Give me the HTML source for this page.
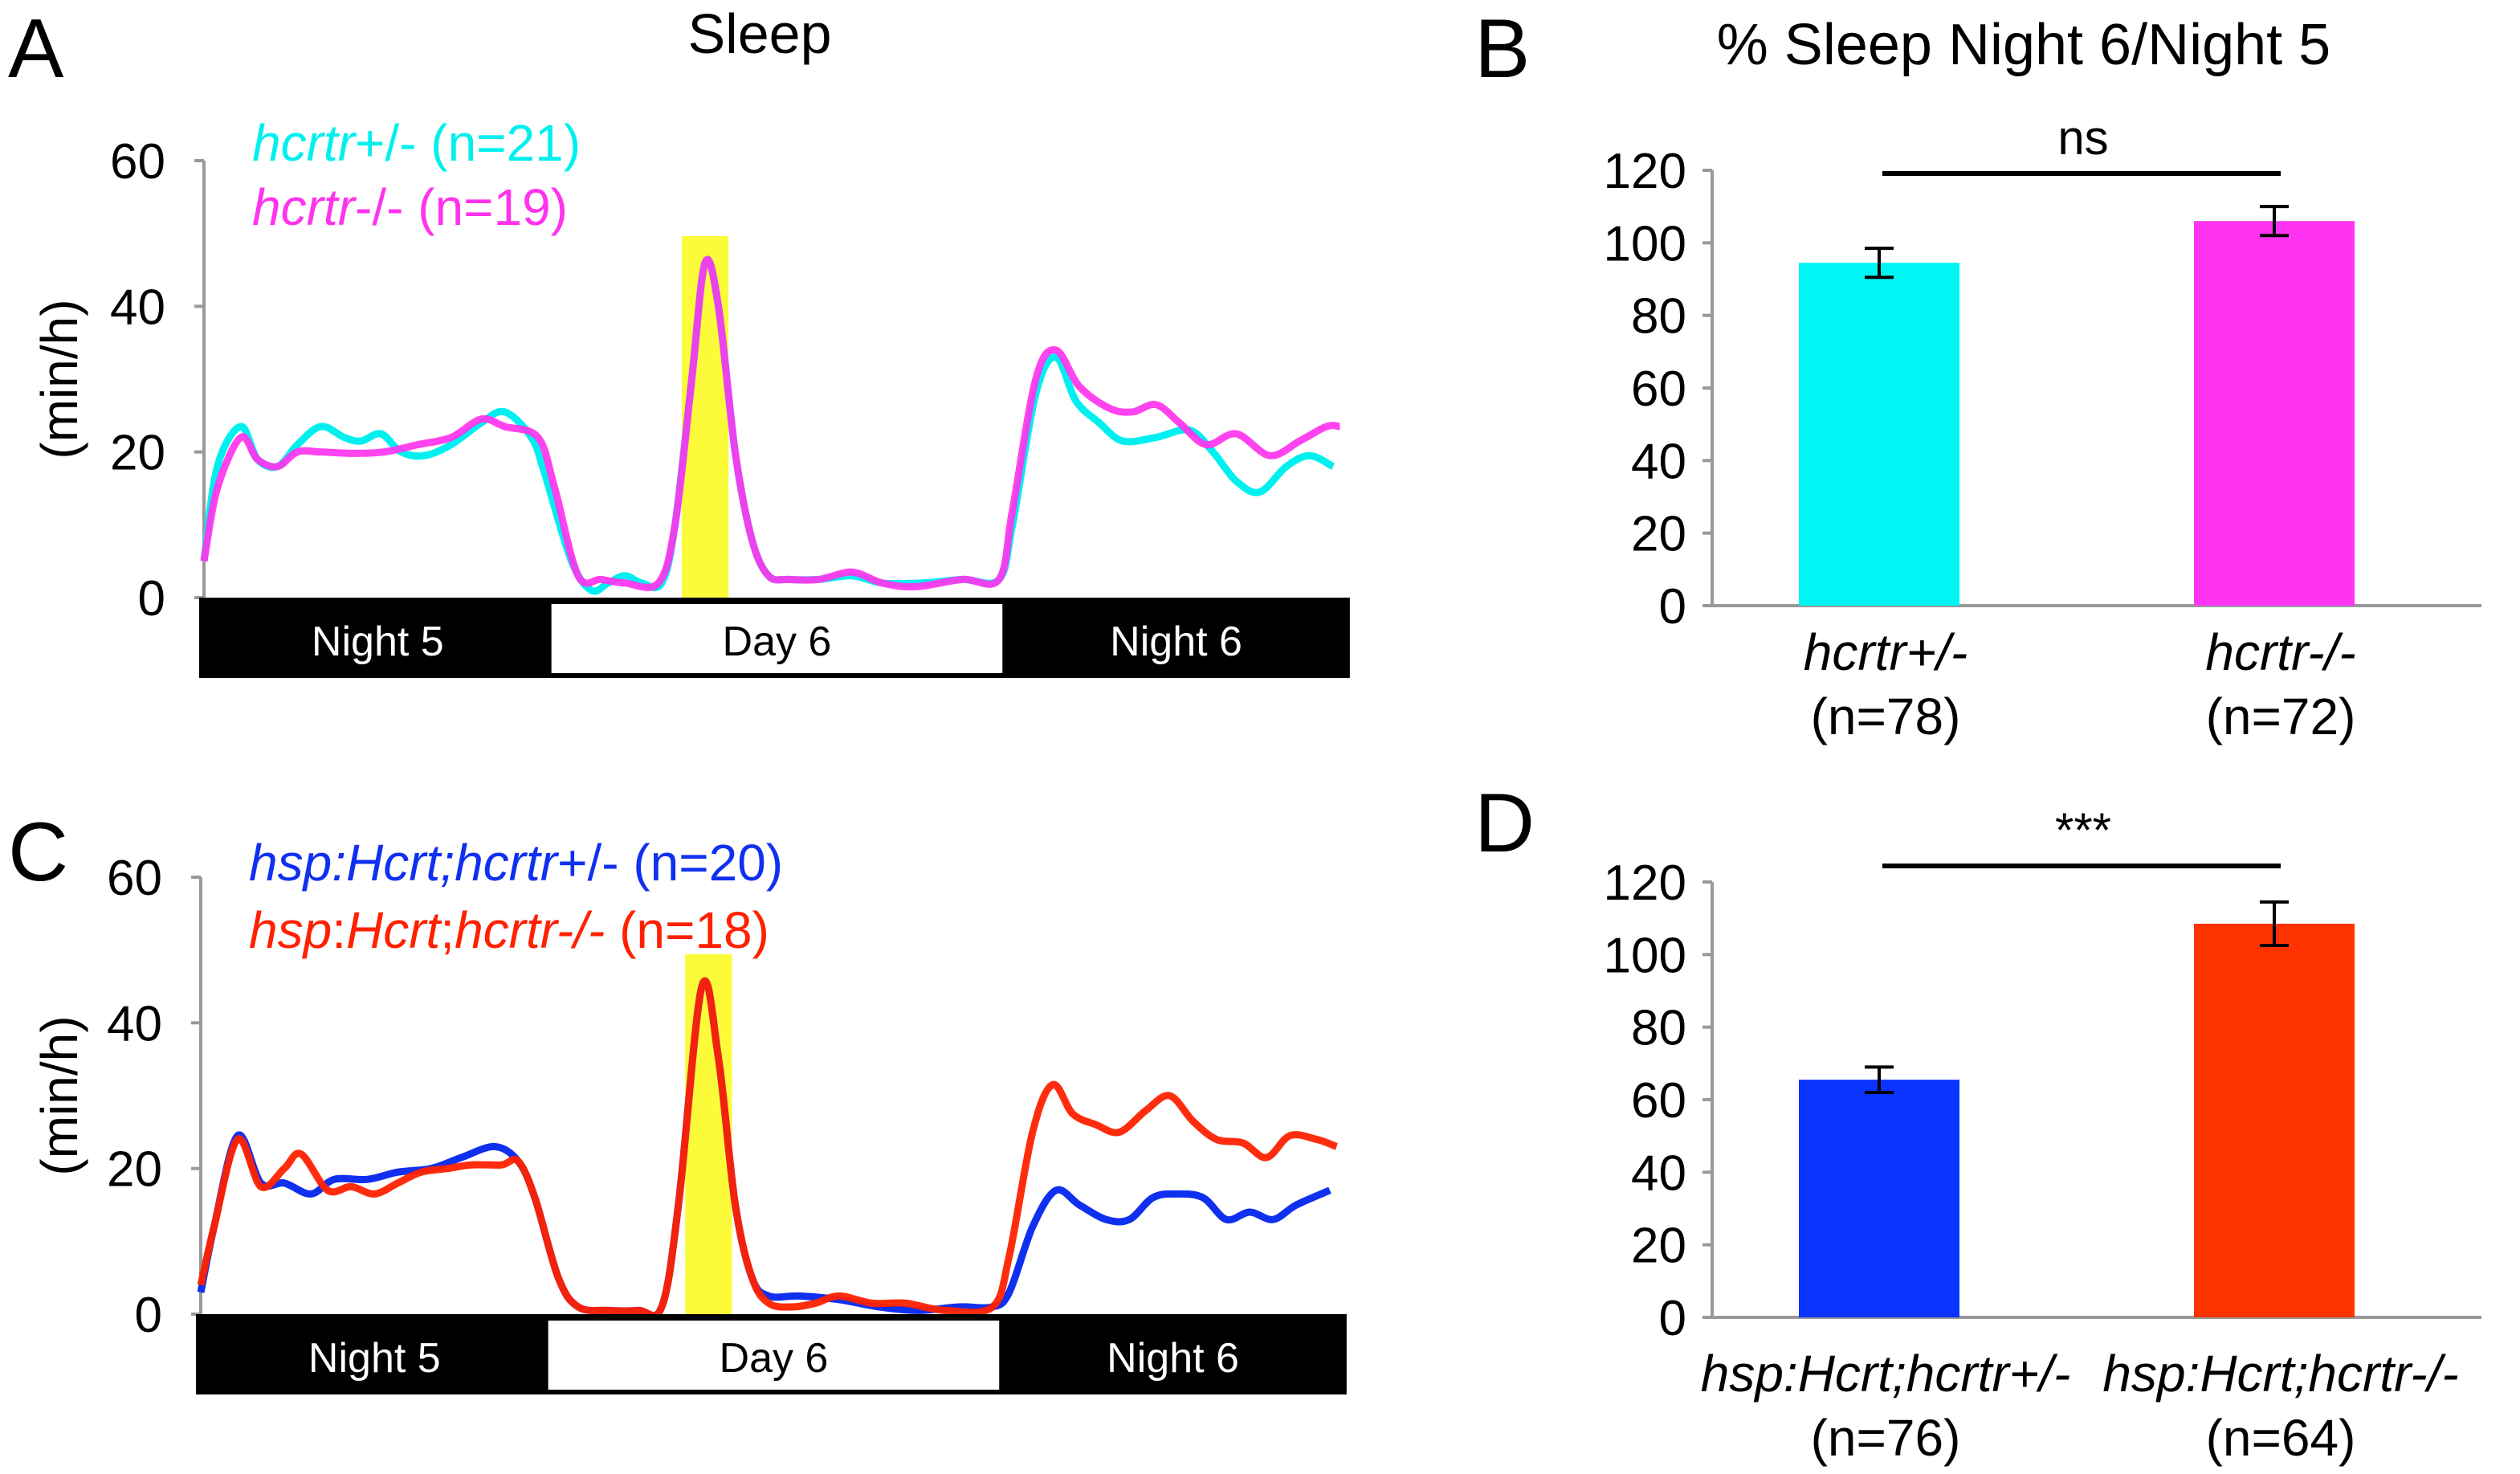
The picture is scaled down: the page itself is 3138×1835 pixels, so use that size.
<!DOCTYPE html>
<html><head><meta charset="utf-8"><style>html,body{margin:0;padding:0;background:#fff}svg{display:block}text{font-family:"Liberation Sans",sans-serif}</style></head>
<body>
<svg id="fig" width="3138" height="1835" viewBox="0 0 1569 917.5" xmlns="http://www.w3.org/2000/svg">
<g>
<text x="5" y="48" font-size="52">A</text>
<text x="473" y="33" font-size="35" text-anchor="middle">Sleep</text>
<text transform="translate(48,236) rotate(-90)" font-size="32" text-anchor="middle">(min/h)</text>
<text x="157" y="100" font-size="32" fill="#00f0f0"><tspan font-style="italic">hcrtr</tspan>+/-  (n=21)</text>
<text x="157" y="140" font-size="32" fill="#ff33ee"><tspan font-style="italic">hcrtr</tspan>-/-  (n=19)</text>
<g id="axA"></g>
</g>
<g>
<text x="5" y="548" font-size="52">C</text>
<text transform="translate(48,682) rotate(-90)" font-size="32" text-anchor="middle">(min/h)</text>
<text x="155" y="548" font-size="32" fill="#1030f0"><tspan font-style="italic">hsp:Hcrt;hcrtr</tspan>+/-  (n=20)</text>
<text x="155" y="590" font-size="32" fill="#ff2000"><tspan font-style="italic">hsp</tspan>:<tspan font-style="italic">Hcrt</tspan>;<tspan font-style="italic">hcrtr-/-</tspan>  (n=18)</text>
<g id="axC"></g>
</g>
<g>
<text x="918" y="48" font-size="52">B</text>
<text x="1260" y="40" font-size="36" text-anchor="middle">% Sleep Night 6/Night 5</text>
<g id="axB"></g>
</g>
<g>
<text x="918" y="530" font-size="52">D</text>
<g id="axD"></g>
</g>
</svg>
<script>
// ---- line chart data (time in hours, sleep min/h) ----
const tHetA=[0,0.4,1.1,1.6,2.2,2.8,3.5,4.2,4.7,5.3,5.9,6.6,7.4,8.3,9.0,9.8,10.2,11.0,11.6,12.1,12.6,13.1,13.7,14.1,14.6,15.0,15.4,15.9,16.4,16.9,17.5,18.4,19.4,20.3,21.5,22.7,23.8,24.2,24.9,25.5,26.1,26.8,27.5,28.5,29.5,30.2,30.9,31.6,32.4,33.1,33.8];
const vHetA=[5,18,23.5,19,18,21,23.5,22,21.5,22.5,20,19.5,21,24,25.5,22,17,5,1,2,3,2,2,10,30,46,40,20,8,3,2.5,2.5,3,2,2,2.5,2.5,10,28,33,27,24,21.5,22,23,20,16,14.5,18,19.5,18];
const tKoA=[0,0.4,1.1,1.6,2.2,2.8,3.5,4.5,5.4,6.4,7.4,8.3,9.0,10.0,10.5,11.2,11.9,12.6,13.6,14.1,14.6,15.0,15.4,15.9,16.4,16.9,17.5,18.4,19.4,20.3,21.3,22.7,23.8,24.2,24.9,25.5,26.2,27.1,27.8,28.5,29.2,30.0,30.9,31.9,32.8,33.6,34.0];
const vKoA=[5,15,22,19,18,20,20,19.8,20,21,22,24.5,23.5,22,15,3,2.5,2,2,10,30,46,40,20,8,3,2.5,2.5,3.5,2,1.5,2.5,2.5,12,30,34,29,26,25.5,26.5,24,21,22.5,19.5,21.5,23.5,23.5];
const tHetC=[0,0.4,1.1,1.8,2.5,3.3,4.0,5.0,5.9,6.9,7.8,8.8,9.5,10.0,10.7,11.3,12.2,13.1,13.8,14.3,15.0,15.5,16.0,16.5,17.0,17.9,19.1,20.3,21.5,22.7,23.7,24.2,24.9,25.6,26.3,27.1,27.8,28.5,29.2,30.0,30.7,31.4,32.1,32.8,33.8];
const vHetC=[3,12,24.5,18,18,16.5,18.5,18.5,19.5,20,21.5,23,21,16,5,1,0.5,0.5,1,15,45,35,15,5,2.5,2.5,2,1,0.5,1,1,3,12,17,15,13,13,16,16.5,16,13,14,13,15,17];
const tKoC=[0,0.4,1.1,1.8,2.5,3.0,3.8,4.5,5.2,5.9,6.6,7.4,8.1,9.0,9.5,10.0,10.7,11.3,12.2,13.1,13.8,14.3,15.0,15.5,16.0,16.5,17.0,17.7,18.4,19.1,20.1,21.1,22.3,23.7,24.2,24.9,25.5,26.1,26.8,27.5,28.3,29.0,29.7,30.4,31.2,31.9,32.6,33.4,34.0];
const vKoC=[4,12,24,17.5,20,22,17,17.5,16.5,18,19.5,20,20.5,20.5,21,16,5,1,0.5,0.5,1,15,45,35,15,5,1.5,1,1.5,2.5,1.5,1.5,0.5,1,8,25,31.5,27.5,26,25,28,30,26.5,24,23.5,21.5,24.5,24,23];
const yTicksLine=[0,20,40,60];
const periodNames=["Night 5","Day 6","Night 6"];
const periodBounds=[0,10.4,23.9,34.3];
// ---- bar chart data ----
const groupsB=["hcrtr+/-","hcrtr-/-"];
const nB=["(n=78)","(n=72)"];
const valsB=[94.5,106];
const errB=[4,4];
const groupsD=["hsp:Hcrt;hcrtr+/-","hsp:Hcrt;hcrtr-/-"];
const nD=["(n=76)","(n=64)"];
const valsD=[65.5,108.5];
const errD=[3.5,6];
const yTicksBar=[0,20,40,60,80,100,120];

const NS="http://www.w3.org/2000/svg";
function mk(parent,tag,attrs,text){const e=document.createElementNS(NS,tag);for(const k in attrs)e.setAttribute(k,attrs[k]);if(text!==undefined)e.textContent=text;parent.appendChild(e);return e;}
function smooth(pts){
  let d='M'+pts[0][0].toFixed(1)+','+pts[0][1].toFixed(1);
  for(let i=0;i<pts.length-1;i++){
    const p0=pts[Math.max(0,i-1)],p1=pts[i],p2=pts[i+1],p3=pts[Math.min(pts.length-1,i+2)];
    const c1=[p1[0]+(p2[0]-p0[0])/6,p1[1]+(p2[1]-p0[1])/6];
    const c2=[p2[0]-(p3[0]-p1[0])/6,p2[1]-(p3[1]-p1[1])/6];
    d+='C'+c1.map(v=>v.toFixed(1)).join(',')+' '+c2.map(v=>v.toFixed(1)).join(',')+' '+p2[0].toFixed(1)+','+p2[1].toFixed(1);
  }
  return d;
}

function lineChart(gid,x0,y0,yTop,series,hl){
  const g=document.getElementById(gid);
  const xs=t=>x0+t*20.8;
  const ys=v=>y0-(v/60)*(y0-yTop);
  const hr=mk(g,'rect',{x:xs(hl[0]),y:hl[2],width:xs(hl[1])-xs(hl[0]),height:y0-hl[2],fill:'#fbfb3a'});
  
  
  const ax=mk(g,'line',{x1:x0,y1:yTop,x2:x0,y2:y0,stroke:'#999','stroke-width':2});
  
  
  yTicksLine.forEach(v=>{
    const tk=mk(g,'line',{x1:x0-6,y1:ys(v),x2:x0,y2:ys(v),stroke:'#999','stroke-width':2});
    
    
    const tl=mk(g,'text',{x:x0-24,y:ys(v)+11,'font-size':31,'text-anchor':'end'},String(v));
    
    
  });
  series.forEach(s=>{
    const d=smooth(s.t.map((t,i)=>[xs(t),ys(s.v[i])]));
    const p=mk(g,'path',{d:d,fill:'none',stroke:s.c,'stroke-width':4.5,'stroke-linejoin':'round','stroke-opacity':s.o||1});
    
    
  });
  const bx0=x0-3, bx1=xs(periodBounds[3]);
  const bar=mk(g,'rect',{x:bx0,y:y0,width:bx1-bx0,height:50,fill:'#000'});
  
  
  const w=mk(g,'rect',{x:xs(periodBounds[1]),y:y0+4,width:xs(periodBounds[2])-xs(periodBounds[1]),height:43,fill:'#fff'});
  
  
  periodNames.forEach((n,i)=>{
    const cx=(Math.max(bx0,xs(periodBounds[i]))+xs(periodBounds[i+1]))/2;
    const t=mk(g,'text',{x:cx,y:y0+36,'font-size':26,'text-anchor':'middle',fill:i===1?'#000':'#fff'},n);
    
    
  });
}
lineChart('axA',127,372,100,[
  {t:tHetA,v:vHetA,c:'#00f0f0',name:'line-hcrtr-het'},
  {t:tKoA,v:vKoA,c:'#ff33ee',name:'line-hcrtr-ko',o:0.92}],[14.3,15.7,147]);
lineChart('axC',125,818,546,[
  {t:tHetC,v:vHetC,c:'#1030f0',name:'line-hsp-het'},
  {t:tKoC,v:vKoC,c:'#ff2200',name:'line-hsp-ko',o:0.95}],[14.5,15.9,594]);

function barChart(gid,y0,yTop,groups,ns,vals,errs,colors,sigY,sigText,labY){
  const g=document.getElementById(gid);
  const x0=1066;
  const ys=v=>y0-(v/120)*(y0-yTop);
  const ax=mk(g,'line',{x1:x0,y1:yTop,x2:x0,y2:y0,stroke:'#999','stroke-width':2});
  
  
  const xa=mk(g,'line',{x1:x0,y1:y0,x2:1545,y2:y0,stroke:'#999','stroke-width':2});
  
  
  yTicksBar.forEach(v=>{
    const tk=mk(g,'line',{x1:x0-6,y1:ys(v),x2:x0,y2:ys(v),stroke:'#999','stroke-width':2});
    
    
    const tl=mk(g,'text',{x:x0-16,y:ys(v)+11,'font-size':31,'text-anchor':'end'},String(v));
    
    
  });
  const centers=[1170,1416];
  vals.forEach((v,i)=>{
    const b=mk(g,'rect',{x:centers[i]-50,y:ys(v),width:100,height:y0-ys(v),fill:colors[i]});
    
    
    const e=mk(g,'path',{d:`M${centers[i]-9},${ys(v+errs[i])}H${centers[i]+9}M${centers[i]},${ys(v+errs[i])}V${ys(v-errs[i])}M${centers[i]-9},${ys(v-errs[i])}H${centers[i]+9}`,stroke:'#000','stroke-width':2,fill:'none'});
    
    
    const lab=mk(g,'text',{x:centers[i]+4,y:labY,'font-size':32,'text-anchor':'middle','font-style':'italic'},groups[i]);
    
    
    const nl=mk(g,'text',{x:centers[i]+4,y:labY+40,'font-size':32,'text-anchor':'middle'},ns[i]);
    
    
  });
  const s=mk(g,'line',{x1:centers[0]+2,y1:sigY,x2:centers[1]+4,y2:sigY,stroke:'#000','stroke-width':3});
  
  
  const st=mk(g,'text',{x:(centers[0]+centers[1])/2+4,y:sigY-12,'font-size':30,'text-anchor':'middle'},sigText);
  
  
}
barChart('axB',377,106,groupsB,nB,valsB,errB,['#00f5f5','#ff33f2'],108,'ns',417);
barChart('axD',820,549,groupsD,nD,valsD,errD,['#0a33ff','#ff3300'],539,'***',866);
</script>
</body></html>
